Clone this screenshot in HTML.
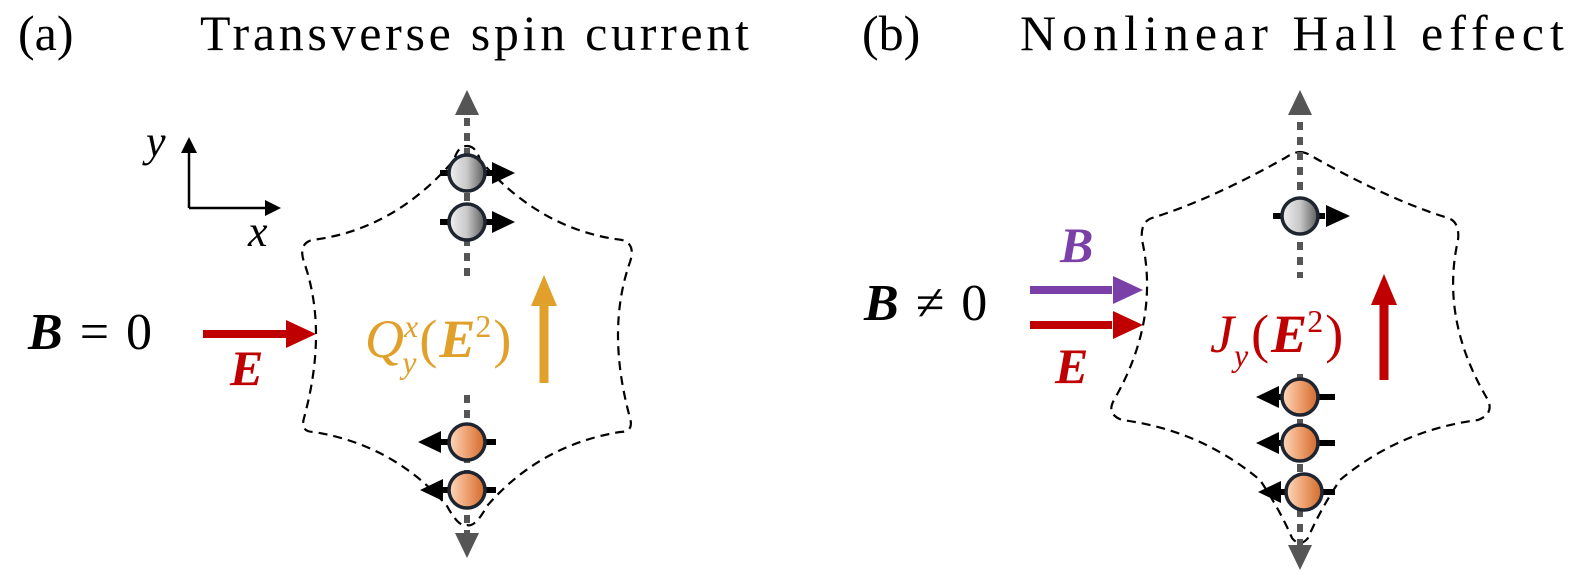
<!DOCTYPE html>
<html><head><meta charset="utf-8"><style>
html,body{margin:0;padding:0;background:#fff;}
svg{display:block;}
text{font-family:"Liberation Serif",serif;}
</style></head><body>
<svg width="1575" height="581" viewBox="0 0 1575 581" xmlns="http://www.w3.org/2000/svg" font-family="Liberation Serif, serif">
<defs>
<linearGradient id="gg" x1="0" x2="1" y1="0" y2="0"><stop offset="0" stop-color="#f0f0f0"/><stop offset="0.5" stop-color="#c8c8c8"/><stop offset="1" stop-color="#5a5a5a"/></linearGradient>
<linearGradient id="og" x1="0" x2="1" y1="0" y2="0"><stop offset="0" stop-color="#fbd9bd"/><stop offset="0.5" stop-color="#eea070"/><stop offset="1" stop-color="#cf6a2a"/></linearGradient>
</defs>
<!-- titles -->
<text x="18" y="50" font-size="50" font-family="Liberation Serif, serif">(a)</text>
<text x="200" y="50" font-size="50" letter-spacing="3.7" font-family="Liberation Serif, serif">Transverse spin current</text>
<text x="862" y="50" font-size="50" font-family="Liberation Serif, serif">(b)</text>
<text x="1020" y="50" font-size="50" letter-spacing="6" font-family="Liberation Serif, serif">Nonlinear Hall effect</text>

<!-- axes -->
<path d="M189,208 V150 M189,208 H266" stroke="#000" stroke-width="2.5" fill="none"/>
<polygon points="189,137 181,153 197,153" fill="#000"/>
<polygon points="281,208 265,200 265,216" fill="#000"/>
<text x="146" y="156" font-size="44" font-style="italic" font-family="Liberation Serif, serif">y</text>
<text x="248" y="246" font-size="44" font-style="italic" font-family="Liberation Serif, serif">x</text>

<!-- panel a left -->
<text x="28" y="349" font-size="52" letter-spacing="2" font-family="Liberation Serif, serif"><tspan font-weight="bold" font-style="italic">B</tspan> = 0</text>
<path d="M203,334 H288" stroke="#c00000" stroke-width="8"/>
<polygon points="316,334 286,320 286,348" fill="#c00000"/>
<text x="230" y="385" font-size="50" font-weight="bold" font-style="italic" fill="#c00000" font-family="Liberation Serif, serif">E</text>

<!-- shape a -->
<path d="M467,146 Q476,146 480,160 Q540,230 622,240 Q636,244 630,262 Q606,330 630,418 Q634,432 620,432 Q540,445 487,506 Q475,528 467,525 Q459,528 447,506 Q394,445 314,432 Q300,432 304,418 Q328,330 304,262 Q298,244 312,240 Q394,230 454,160 Q458,146 467,146 Z" fill="none" stroke="#000" stroke-width="2.2" stroke-dasharray="9,6"/>
<path d="M467,118 V276 M467,395 V548" stroke="#555" stroke-width="6" stroke-dasharray="8,7"/>
<polygon points="467,90 455,115 479,115" fill="#555"/>
<polygon points="467,558 455,533 479,533" fill="#555"/>
<g stroke="#000">
<path d="M440,173 H492" stroke-width="6"/><path d="M440,222 H492" stroke-width="6"/>
<path d="M440,442 H496" stroke-width="6"/><path d="M440,490 H496" stroke-width="6"/>
</g>
<polygon points="515,173 492,162 492,184" fill="#000"/>
<polygon points="515,222 492,211 492,233" fill="#000"/>
<polygon points="418,442 441,431 441,453" fill="#000"/>
<polygon points="420,490 443,479 443,501" fill="#000"/>
<circle cx="467" cy="173" r="18" fill="url(#gg)" stroke="#1e2530" stroke-width="3.5"/>
<circle cx="467" cy="222" r="18" fill="url(#gg)" stroke="#1e2530" stroke-width="3.5"/>
<circle cx="467" cy="442" r="18" fill="url(#og)" stroke="#1e2530" stroke-width="3.5"/>
<circle cx="467" cy="490" r="18" fill="url(#og)" stroke="#1e2530" stroke-width="3.5"/>
<text x="365" y="357" font-size="54" fill="#e0a02a" font-family="Liberation Serif, serif"><tspan font-style="italic">Q</tspan><tspan font-size="32" font-style="italic" dy="-20">x</tspan><tspan font-size="32" font-style="italic" dx="-16" dy="36">y</tspan><tspan dx="3" dy="-16">(</tspan><tspan font-weight="bold" font-style="italic" dx="2">E</tspan><tspan font-size="32" dy="-20">2</tspan><tspan dy="20" dx="2">)</tspan></text>
<path d="M544,383 V300" stroke="#e0a02a" stroke-width="9"/>
<polygon points="544,275 531,306 557,306" fill="#e0a02a"/>

<!-- panel b left -->
<text x="864" y="320" font-size="52" letter-spacing="2" font-family="Liberation Serif, serif"><tspan font-weight="bold" font-style="italic">B</tspan> ≠ 0</text>
<text x="1060" y="262" font-size="50" font-weight="bold" font-style="italic" fill="#7b3fa8" font-family="Liberation Serif, serif">B</text>
<path d="M1030,290 H1112" stroke="#7b3fa8" stroke-width="8"/>
<polygon points="1143,290 1113,276 1113,304" fill="#7b3fa8"/>
<path d="M1030,325 H1112" stroke="#c00000" stroke-width="8"/>
<polygon points="1143,325 1113,311 1113,339" fill="#c00000"/>
<text x="1055" y="383" font-size="50" font-weight="bold" font-style="italic" fill="#c00000" font-family="Liberation Serif, serif">E</text>

<!-- shape b -->
<path d="M1300,152 Q1306,152 1315,158 Q1390,200 1448,218 Q1460,222 1458,240 Q1440,320 1488,400 Q1494,414 1478,420 Q1400,430 1340,480 Q1320,510 1308,538 Q1300,548 1292,538 Q1280,510 1260,480 Q1200,430 1122,420 Q1106,414 1114,400 Q1160,320 1142,240 Q1140,222 1152,218 Q1210,200 1285,158 Q1294,152 1300,152 Z" fill="none" stroke="#000" stroke-width="2.2" stroke-dasharray="9,6"/>
<path d="M1300,122 V278 M1300,374 V546" stroke="#555" stroke-width="6" stroke-dasharray="8,7"/>
<polygon points="1300,90 1288,115 1312,115" fill="#555"/>
<polygon points="1300,570 1288,545 1312,545" fill="#555"/>
<g stroke="#000">
<path d="M1273,216 H1325" stroke-width="6"/>
<path d="M1273,397 H1335" stroke-width="6"/><path d="M1273,443 H1335" stroke-width="6"/><path d="M1273,492 H1335" stroke-width="6"/>
</g>
<polygon points="1350,216 1326,205 1326,227" fill="#000"/>
<polygon points="1256,397 1279,386 1279,408" fill="#000"/>
<polygon points="1256,443 1279,432 1279,454" fill="#000"/>
<polygon points="1258,492 1281,481 1281,503" fill="#000"/>
<circle cx="1300" cy="216" r="18" fill="url(#gg)" stroke="#1e2530" stroke-width="3.5"/>
<circle cx="1300" cy="397" r="18" fill="url(#og)" stroke="#1e2530" stroke-width="3.5"/>
<circle cx="1300" cy="443" r="18" fill="url(#og)" stroke="#1e2530" stroke-width="3.5"/>
<circle cx="1304" cy="492" r="18" fill="url(#og)" stroke="#1e2530" stroke-width="3.5"/>
<text x="1210" y="352" font-size="54" fill="#c00000" font-family="Liberation Serif, serif"><tspan font-style="italic">J</tspan><tspan font-size="32" font-style="italic" dy="14">y</tspan><tspan dx="3" dy="-14">(</tspan><tspan font-weight="bold" font-style="italic" dx="2">E</tspan><tspan font-size="32" dy="-20">2</tspan><tspan dy="20" dx="2">)</tspan></text>
<path d="M1384,380 V300" stroke="#c00000" stroke-width="9"/>
<polygon points="1384,274 1371,305 1397,305" fill="#c00000"/>
</svg>
</body></html>
